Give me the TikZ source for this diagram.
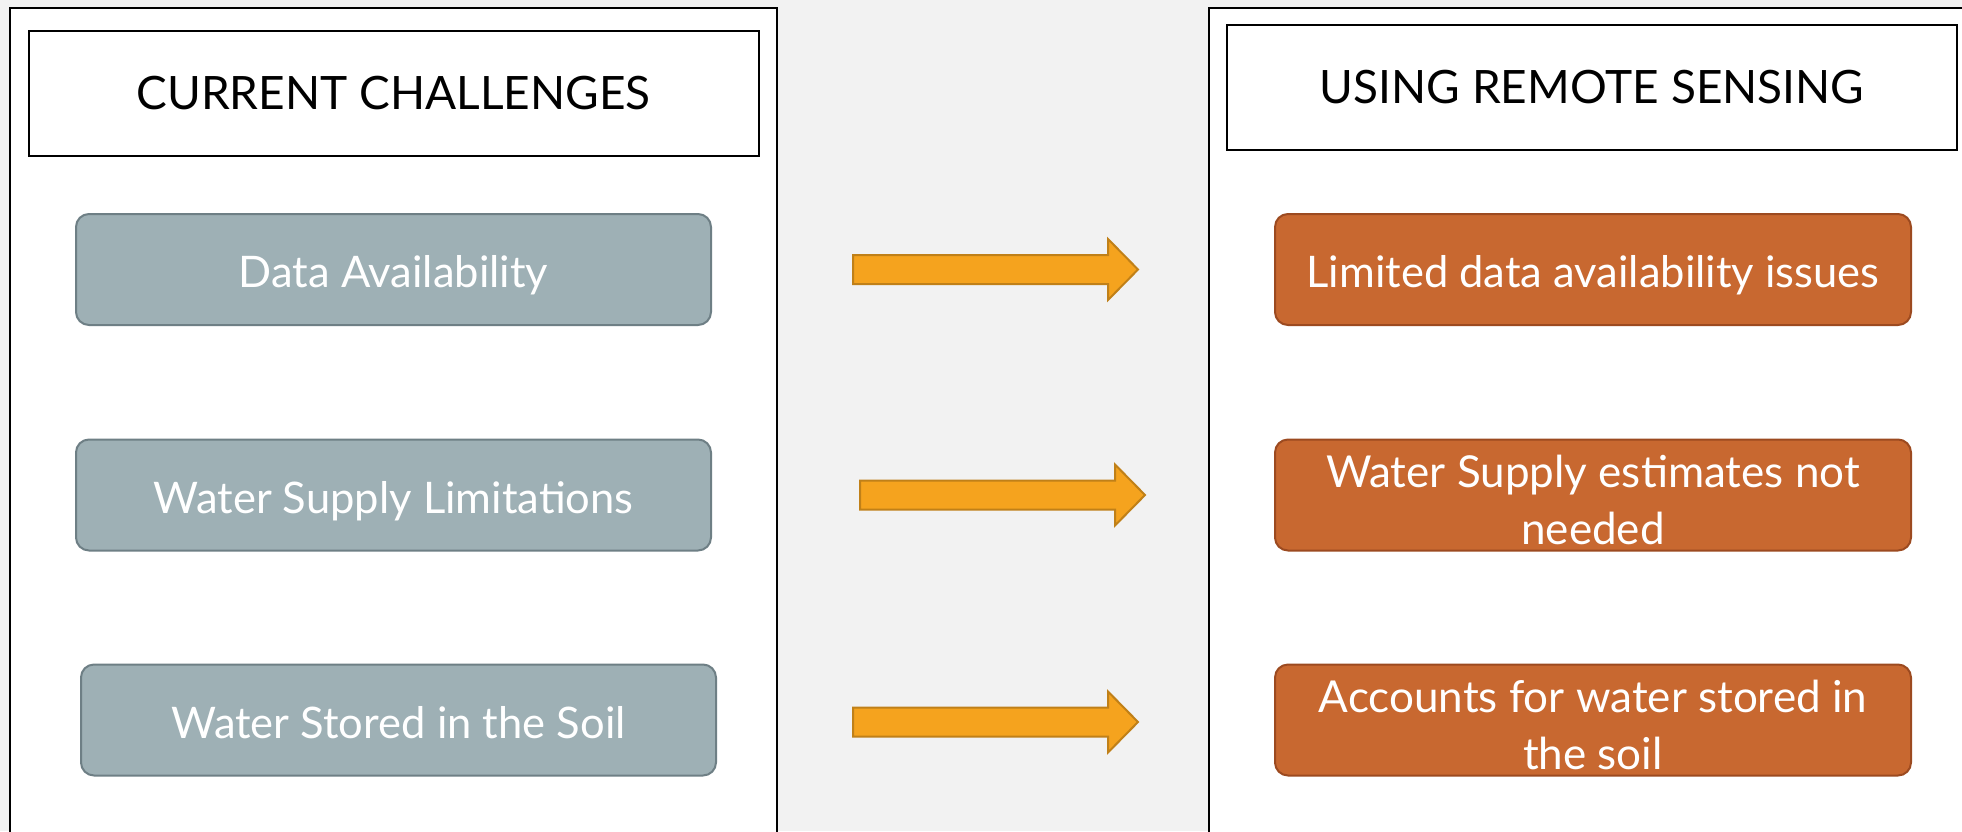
\documentclass[tikz,border=0pt]{standalone}
\usepackage{fontspec}
\setmainfont{Lato}
\definecolor{pagebg}{HTML}{F2F2F2}
\definecolor{slate}{HTML}{9EB0B5}
\definecolor{slateedge}{HTML}{6E7F85}
\definecolor{rust}{HTML}{C86830}
\definecolor{rustedge}{HTML}{9C4A20}
\definecolor{amber}{HTML}{F5A31E}
\definecolor{amberedge}{HTML}{C08018}
% two centred lines set in a box whose baseline is the last line
\newcommand{\twolines}[2]{\vbox{\hsize=620pt\parindent=0pt\centering #1\\#2}}
\tikzset{
  panel/.style={draw=black, line width=2pt, fill=white},
  header/.style={draw=black, line width=2pt, fill=white, minimum width=730pt,
    minimum height=125pt, inner sep=0pt, font=\fontsize{46}{52}\selectfont},
  boxtext/.style={inner sep=0pt, text=white, rounded corners=13pt, line width=2pt,
    minimum height=111pt, font=\fontsize{43.5}{57}\selectfont,
    text height=46pt, text depth=10pt},
  challenge/.style={boxtext, draw=slateedge, fill=slate, minimum width=635pt},
  remedy/.style={boxtext, draw=rustedge, fill=rust, minimum width=636pt},
  tworow/.style={font=\fontsize{44}{57}\selectfont, text height=104pt, text depth=6pt},
  blockarrow/.pic={
    \draw[draw=amberedge, line width=2pt, fill=amber, line join=miter]
      (0,-14.5) -- (255,-14.5) -- (255,-30.5) -- (285,0) -- (255,30.5)
      -- (255,14.5) -- (0,14.5) -- cycle;
  }
}
\begin{document}
\begin{tikzpicture}[x=1pt, y=-1pt]
\useasboundingbox (0,0) rectangle (1962,831);
\clip (0,0) rectangle (1962,831);
\fill[pagebg] (0,0) rectangle (1962,831);

% two open-ended panels
\draw[panel] (10,7.5) rectangle (777,845);
\draw[panel] (1209,7.5) rectangle (1975,845);

% headers
\node[header] (hleft)  at (393.5,93.5) {CURRENT CHALLENGES};
\node[header] (hright) at (1592,87)    {USING REMOTE SENSING};

% challenges
\node[challenge] (c1) at (393.5,269.5) {Data Availability};
\node[challenge] (c2) at (393.5,495)   {Water Supply Limitations};
\node[challenge] (c3) at (398.5,720)   {Water Stored in the Soil};

% remote sensing answers
\node[remedy] (r1) at (1593,269.5) {Limited data availability issues};
\node[remedy, tworow] (r2) at (1593,495) {\twolines{Water Supply estimates not}{needed}};
\node[remedy, tworow] (r3) at (1593,720) {\twolines{Accounts for water stored in}{the soil}};

% block arrows between the panels
\pic (a1) at (853,269.5) {blockarrow};
\pic (a2) at (860,495)   {blockarrow};
\pic (a3) at (853,722)   {blockarrow};
\end{tikzpicture}
\end{document}
